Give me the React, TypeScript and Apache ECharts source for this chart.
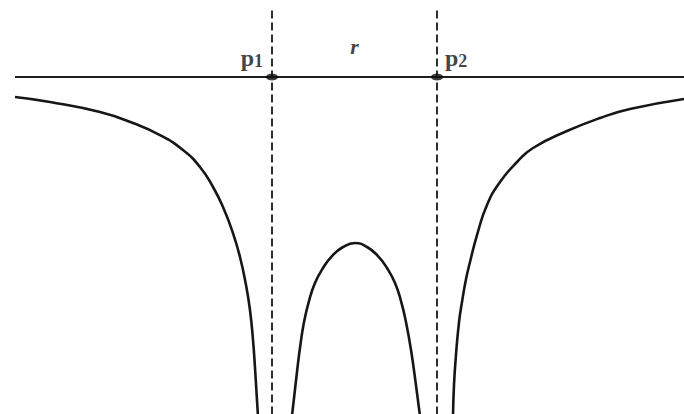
import React, { useEffect, useRef } from "react";
import * as echarts from "echarts";

// Potential energy of an electron along the axis through two protons p1 and p2.
// x is measured in units of r/2 (p1 at -1, p2 at +1); y is the energy.
const leftBranch: [number, number][] = [
  [-4.115, -0.241], [-3.691, -0.301], [-3.085, -0.422], [-2.685, -0.554],
  [-2.358, -0.699], [-2.079, -0.88], [-1.873, -1.084], [-1.715, -1.325],
  [-1.594, -1.566], [-1.473, -1.88], [-1.388, -2.169], [-1.315, -2.506],
  [-1.267, -2.807], [-1.23, -3.169], [-1.206, -3.506], [-1.182, -3.892],
  [-1.17, -4.084],
];

const middleArch: [number, number][] = [
  [-0.758, -4.084], [-0.733, -3.867], [-0.697, -3.554], [-0.661, -3.265],
  [-0.612, -2.952], [-0.552, -2.699], [-0.479, -2.482], [-0.382, -2.301],
  [-0.273, -2.157], [-0.139, -2.048], [0.006, -2.0], [0.152, -2.048],
  [0.285, -2.157], [0.394, -2.301], [0.491, -2.482], [0.564, -2.699],
  [0.624, -2.952], [0.685, -3.289], [0.745, -3.711], [0.794, -4.084],
];

const rightBranch: [number, number][] = [
  [1.194, -4.084], [1.206, -3.711], [1.23, -3.349], [1.267, -2.952],
  [1.303, -2.711], [1.352, -2.434], [1.4, -2.229], [1.485, -1.904],
  [1.606, -1.542], [1.764, -1.265], [1.97, -1.024], [2.164, -0.855],
  [2.576, -0.651], [2.976, -0.494], [3.339, -0.386], [3.994, -0.265],
];

const protonX = [-1, 1];
const protonNames = ["1", "2"];
const zeroLine: [number, number][] = [[-4.115, 0], [3.994, 0]];
const separationLabel = "r";

const X_MIN = -4.297;
const X_MAX = 3.994;
const Y_MIN = -4.06;
const Y_MAX = 0.928;
const DASH_TOP = 0.8;

const SERIF = "'Liberation Serif', 'DejaVu Serif', serif";

export default function App() {
  const ref = useRef<HTMLDivElement>(null);

  useEffect(() => {
    if (!ref.current) return;
    const chart = echarts.init(ref.current, undefined, { renderer: "svg" });

    const curve = (data: [number, number][]) => ({
      type: "line",
      data,
      showSymbol: false,
      smooth: 0.5,
      silent: true,
      lineStyle: { color: "#161616", width: 2.6 },
      z: 3,
    });

    const dashed = protonX.map((x) => ({
      type: "line",
      data: [[x, DASH_TOP], [x, Y_MIN]],
      showSymbol: false,
      silent: true,
      lineStyle: { color: "#2e2e2e", width: 2, type: [8, 4] },
      z: 2,
    }));

    chart.setOption({
      animation: false,
      grid: { left: 0, right: 0, top: 0, bottom: 0 },
      xAxis: { type: "value", min: X_MIN, max: X_MAX, show: false },
      yAxis: { type: "value", min: Y_MIN, max: Y_MAX, show: false },
      series: [
        {
          type: "line",
          data: zeroLine,
          showSymbol: false,
          silent: true,
          lineStyle: { color: "#1e1e1e", width: 1.8 },
          z: 2,
        },
        ...dashed,
        curve(leftBranch),
        curve(middleArch),
        curve(rightBranch),
        {
          type: "scatter",
          data: protonX.map((x, i) => ({
            value: [x, 0],
            label: {
              show: true,
              formatter: `{p|p}{s|${protonNames[i]}}`,
              position: i === 0 ? "left" : "right",
              distance: i === 0 ? 3 : 2,
              offset: [0, -18],
              rich: {
                p: { fontFamily: SERIF, fontSize: 24, fontWeight: "bold", color: "#111", lineHeight: 22, verticalAlign: "bottom" },
                s: { fontFamily: SERIF, fontSize: 18, fontWeight: "bold", color: "#111", lineHeight: 14, verticalAlign: "bottom" },
              },
            },
          })),
          symbol: "circle",
          symbolSize: [12, 7],
          itemStyle: { color: "#0d0d0d" },
          z: 5,
        },
        {
          type: "scatter",
          data: [[(protonX[0] + protonX[1]) / 2, 0.37]],
          symbolSize: 0,
          label: {
            show: true,
            formatter: separationLabel,
            position: "inside",
            fontFamily: SERIF,
            fontStyle: "italic",
            fontWeight: "bold",
            fontSize: 22,
            color: "#111",
          },
          z: 5,
        },
      ],
    });

    return () => chart.dispose();
  }, []);

  return (
    <div
      ref={ref}
      style={{ position: "fixed", left: 0, top: 0, width: 684, height: 414, background: "#fff" }}
    />
  );
}
